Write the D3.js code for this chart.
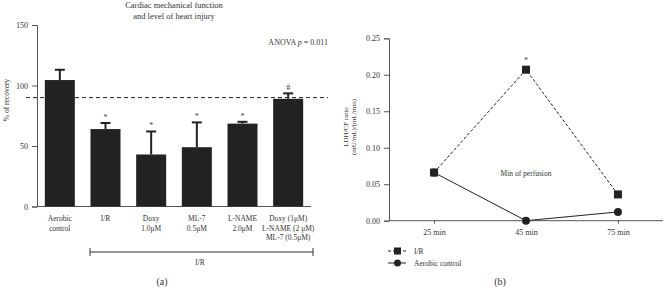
<!DOCTYPE html>
<html lang="en">
<head>
  <meta charset="UTF-8">
  <title>Cardiac function and LDH/CF ratio</title>
  <script src="https://d3js.org/d3.v7.min.js"></script>
  <style>
    body { margin: 0; background: #fff; }
    svg { font-family: "Liberation Serif", serif; }
    .axis path, .axis line { stroke: #555; }
    .axis text { font-family: "Liberation Serif", serif; font-size: 8px; fill: #333; }
  </style>
</head>
<body>
<svg width="664" height="288"></svg>

<script>
  // panel (a): % of recovery
  const groups = ["Aerobic control", "I/R", "Doxy 1.0", "ML-7 0.5", "L-NAME 2.0", "Combo"];
  const groupLabels = [
    ["Aerobic", "control"],
    ["I/R"],
    ["Doxy", "1.0\u03bcM"],
    ["ML-7", "0.5\u03bcM"],
    ["L-NAME", "2.0\u03bcM"],
    ["Doxy (1\u03bcM)", "L-NAME (2 \u03bcM)", "ML-7 (0.5\u03bcM)"]
  ];
  const recovery = [104.5, 64, 43, 49, 68.5, 89];
  const recoveryErr = [113, 69, 62, 69.5, 70, 93.5];
  const marks = ["", "*", "*", "*", "*", "#"];
  const recoveryTicks = [0, 50, 100, 150];
  const threshold = 90;

  // panel (b): LDH/CF ratio
  const times = ["25 min", "45 min", "75 min"];
  const irRatio = [0.066, 0.207, 0.036];
  const aerobicRatio = [0.066, 0.0, 0.012];
  const ratioTicks = [0, 0.05, 0.10, 0.15, 0.20, 0.25];

  const svg = d3.select("svg");
  const ink = "#222";

  // ---------- panel (a) ----------
  const xa = d3.scalePoint().domain(groups).range([37, 311]).padding(0.5);
  const ya = d3.scaleLinear().domain([0, 150]).range([206.5, 25]);
  const barW = 30;

  svg.append("g")
    .attr("class", "axis")
    .attr("transform", "translate(37,0)")
    .call(d3.axisLeft(ya).tickValues(recoveryTicks).tickSize(5).tickPadding(4));

  svg.append("line")
    .attr("x1", 37).attr("x2", 311)
    .attr("y1", ya(0)).attr("y2", ya(0))
    .attr("stroke", "#555");

  // error bars (upper only)
  const eb = svg.append("g").attr("stroke", ink).attr("stroke-width", 2);
  groups.forEach((g, i) => {
    eb.append("line")
      .attr("x1", xa(g)).attr("x2", xa(g))
      .attr("y1", ya(recovery[i])).attr("y2", ya(recoveryErr[i]));
    eb.append("line")
      .attr("x1", xa(g) - 5).attr("x2", xa(g) + 5)
      .attr("y1", ya(recoveryErr[i])).attr("y2", ya(recoveryErr[i]));
  });

  svg.append("g")
    .selectAll("rect")
    .data(groups)
    .join("rect")
      .attr("x", g => xa(g) - barW / 2)
      .attr("y", (g, i) => ya(recovery[i]))
      .attr("width", barW)
      .attr("height", (g, i) => ya(0) - ya(recovery[i]))
      .attr("fill", ink);

  svg.append("g")
    .selectAll("text")
    .data(groups)
    .join("text")
      .attr("x", g => xa(g))
      .attr("y", (g, i) => ya(recoveryErr[i]) - 3)
      .attr("text-anchor", "middle")
      .attr("font-size", 8)
      .attr("fill", "#444")
      .text((g, i) => marks[i]);

  svg.append("line")
    .attr("x1", 26).attr("x2", 328)
    .attr("y1", ya(threshold)).attr("y2", ya(threshold))
    .attr("stroke", ink).attr("stroke-width", 1)
    .attr("stroke-dasharray", "4,3");

  // category labels
  groups.forEach((g, i) => {
    const t = svg.append("text")
      .attr("x", xa(g)).attr("y", 221)
      .attr("text-anchor", "middle")
      .attr("font-size", 7.5)
      .attr("fill", "#333");
    groupLabels[i].forEach((s, k) => {
      t.append("tspan").attr("x", xa(g)).attr("dy", k ? 9.5 : 0).text(s);
    });
  });

  // I/R bracket
  const brY = 252;
  const br = svg.append("g").attr("stroke", "#333").attr("stroke-width", 1);
  br.append("line").attr("x1", 90).attr("x2", 313).attr("y1", brY).attr("y2", brY);
  br.append("line").attr("x1", 90).attr("x2", 90).attr("y1", brY - 4).attr("y2", brY + 4);
  br.append("line").attr("x1", 313).attr("x2", 313).attr("y1", brY - 4).attr("y2", brY + 4);
  svg.append("text").attr("x", 200).attr("y", 265).attr("text-anchor", "middle")
    .attr("font-size", 7.5).attr("fill", "#333").text("I/R");

  svg.append("text").attr("text-anchor", "middle").attr("font-size", 8.5).attr("fill", "#333")
    .selectAll("tspan")
    .data(["Cardiac mechanical function", "and level of heart injury"])
    .join("tspan")
      .attr("x", 174)
      .attr("y", (d, i) => 8 + i * 10.5)
      .text(d => d);

  svg.append("text").attr("x", 328).attr("y", 45).attr("text-anchor", "end")
    .attr("font-size", 8).attr("fill", "#333")
    .html('ANOVA <tspan font-style="italic">p</tspan> = 0.011');

  svg.append("text")
    .attr("transform", "translate(9,100) rotate(-90)")
    .attr("text-anchor", "middle")
    .attr("font-size", 7.5).attr("fill", "#333")
    .text("% of recovery");

  svg.append("text").attr("x", 162).attr("y", 285).attr("text-anchor", "middle")
    .attr("font-size", 10).attr("fill", "#333").text("(a)");

  // ---------- panel (b) ----------
  const xb = d3.scalePoint().domain(times).range([389, 663]).padding(0.49);
  const yb = d3.scaleLinear().domain([0, 0.25]).range([220.7, 38.3]);

  svg.append("g")
    .attr("class", "axis")
    .attr("transform", "translate(389,0)")
    .call(d3.axisLeft(yb).tickValues(ratioTicks).tickFormat(d3.format(".2f")).tickSize(5).tickPadding(4));

  const xAxisB = svg.append("g")
    .attr("class", "axis")
    .attr("transform", `translate(0,${yb(0)})`)
    .call(d3.axisBottom(xb).tickSize(3).tickPadding(6));
  xAxisB.select(".domain").attr("d", "M389,0H663");

  const line = d3.line().x((d, i) => xb(times[i])).y(d => yb(d));

  svg.append("path")
    .datum(irRatio)
    .attr("d", line)
    .attr("fill", "none")
    .attr("stroke", ink).attr("stroke-width", 1)
    .attr("stroke-dasharray", "3,2");

  svg.append("path")
    .datum(aerobicRatio)
    .attr("d", line)
    .attr("fill", "none")
    .attr("stroke", ink).attr("stroke-width", 1);

  svg.append("g")
    .selectAll("rect")
    .data(irRatio)
    .join("rect")
      .attr("x", (d, i) => xb(times[i]) - 4)
      .attr("y", d => yb(d) - 4)
      .attr("width", 8).attr("height", 8)
      .attr("fill", ink);

  svg.append("g")
    .selectAll("circle")
    .data(aerobicRatio)
    .join("circle")
      .attr("cx", (d, i) => xb(times[i]))
      .attr("cy", d => yb(d))
      .attr("r", 4)
      .attr("fill", ink);

  svg.append("text").attr("x", xb("45 min")).attr("y", yb(irRatio[1]) - 7)
    .attr("text-anchor", "middle").attr("font-size", 8).attr("fill", "#444").text("*");

  svg.append("text").attr("x", 526).attr("y", 176).attr("text-anchor", "middle")
    .attr("font-size", 7.5).attr("fill", "#333").text("Min of perfusion");

  svg.append("text")
    .attr("transform", "translate(348,127) rotate(-90)")
    .attr("text-anchor", "middle")
    .attr("font-size", 7).attr("fill", "#333")
    .selectAll("tspan")
    .data(["LDH/CF ratio", "(mU/mL)/(mL/min)"])
    .join("tspan")
      .attr("x", 0)
      .attr("dy", (d, i) => i ? 8 : 0)
      .text(d => d);

  // legend
  const legend = svg.append("g");
  const legendRows = [
    { name: "I/R", dash: "3,2", shape: "square", y: 251 },
    { name: "Aerobic control", dash: null, shape: "circle", y: 263 }
  ];
  legendRows.forEach(r => {
    legend.append("line")
      .attr("x1", 388).attr("x2", 406).attr("y1", r.y).attr("y2", r.y)
      .attr("stroke", ink).attr("stroke-width", 1)
      .attr("stroke-dasharray", r.dash);
    if (r.shape === "square") {
      legend.append("rect").attr("x", 394).attr("y", r.y - 3.5).attr("width", 7).attr("height", 7).attr("fill", ink);
    } else {
      legend.append("circle").attr("cx", 397.5).attr("cy", r.y).attr("r", 3.5).attr("fill", ink);
    }
    legend.append("text").attr("x", 414).attr("y", r.y + 2.5)
      .attr("font-size", 7.5).attr("fill", "#333").text(r.name);
  });

  svg.append("text").attr("x", 500).attr("y", 285).attr("text-anchor", "middle")
    .attr("font-size", 10).attr("fill", "#333").text("(b)");
</script>
</body>
</html>
